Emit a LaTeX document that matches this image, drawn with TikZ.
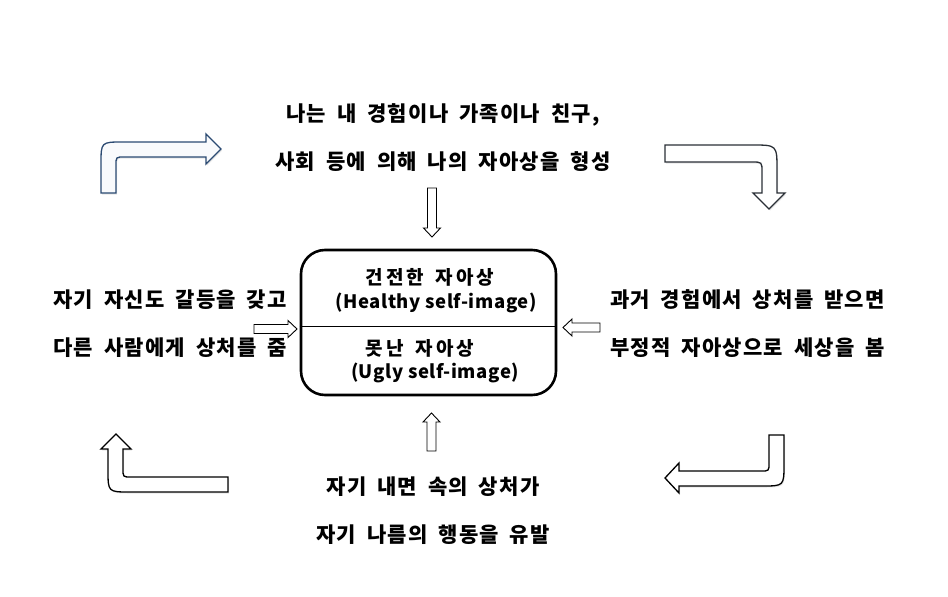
\documentclass[tikz,border=0pt]{standalone}
\usepackage{fontspec}
\newfontfamily\kr{Noto Sans CJK KR}[LetterSpace=6,WordSpace=1.8]
\newfontfamily\krbox{Noto Sans CJK KR}[LetterSpace=16,WordSpace=1.6]
\newfontfamily\enbox{Noto Sans CJK KR}[LetterSpace=3]
\usetikzlibrary{shadows}
\definecolor{bluedge}{HTML}{2B4A72}
\definecolor{bluefill}{HTML}{F9FAFC}
\definecolor{darkedge}{HTML}{2A2F36}
\tikzset{
  caption/.style={font=\kr\bfseries\fontsize{21}{48}\selectfont, align=center, inner sep=0},
  inbox/.style={font=\krbox\bfseries\fontsize{19}{22}\selectfont, inner sep=0},
  inboxen/.style={font=\enbox\bfseries\fontsize{18.5}{22}\selectfont, inner sep=0},
  hollow/.style={draw=black, line width=0.9, fill=white},
  bent/.style={line width=1.3, drop shadow={opacity=0.2,shadow xshift=1pt,shadow yshift=-1.5pt}},
}
% hollow block arrow: start coordinate, angle, length
\newcommand{\hollowarrow}[3]{%
  \draw[hollow,shift={(#1)},rotate=#2] (0,-4.5)--(#3-9,-4.5)--(#3-9,-8.5)--(#3,0)--(#3-9,8.5)--(#3-9,4.5)--(0,4.5)--cycle;}
\begin{document}
\begin{tikzpicture}[x=1pt,y=-1pt]
  \useasboundingbox (0,0) rectangle (948,597);
  % self-image box
  \node[draw, line width=2.6, rounded corners=24, minimum width=255, minimum height=145, inner sep=0] (self) at (428.5,322.5) {};
  \draw[line width=1] ([yshift=-3.5pt]self.west) -- ([yshift=-3.5pt]self.east);
  \node[inbox] (healthy) at (430,277) {건전한 자아상};
  \node[inboxen] (healthyen) at (436,303) {(Healthy self-image)};
  \node[inbox] (ugly) at (420,348) {못난 자아상};
  \node[inboxen] (uglyen) at (435,373) {(Ugly self-image)};
  % texts round the box
  \node[caption] (top) at (443,138) {나는 내 경험이나 가족이나 친구,\\사회 등에 의해 나의 자아상을 형성};
  \node[caption] (left) at (170,324) {자기 자신도 갈등을 갖고\\다른 사람에게 상처를 줌};
  \node[caption] (right) at (747.5,324) {과거 경험에서 상처를 받으면\\부정적 자아상으로 세상을 봄};
  \node[caption] (bottom) at (433,511) {자기 내면 속의 상처가\\자기 나름의 행동을 유발};
  % small arrows into the box
  \coordinate (topin) at (432,188);
  \coordinate (leftin) at (254,329);
  \coordinate (rightin) at (600,327.5);
  \coordinate (bottomin) at (431.5,451);
  \hollowarrow{topin}{-90}{49}
  \hollowarrow{leftin}{0}{43}
  \hollowarrow{rightin}{180}{37}
  \hollowarrow{bottomin}{90}{38}
  % bent arrows of the cycle
  \draw[bent, draw=bluedge, fill=bluefill]
    (101,193) -- (101,164) .. controls (101,142) .. (123,142) -- (206,142) -- (206,134) -- (221,149)
    -- (206,164) -- (206,157) -- (124,157) .. controls (116,157) .. (116,165) -- (116,193) -- cycle;
  \draw[bent, draw=darkedge, fill=white]
    (665,145) -- (752,145) .. controls (777,145) .. (777,170) -- (777,193) -- (785,193) -- (769,209)
    -- (753,193) -- (762,193) -- (762,172) .. controls (762,162) .. (752,162) -- (665,162) -- cycle;
  \draw[bent, draw=black, fill=white]
    (228,477) -- (131,477) .. controls (123,477) .. (123,469) -- (123,449) -- (131,449) -- (116,434)
    -- (101,449) -- (108,449) -- (108,470) .. controls (108,492) .. (130,492) -- (228,492) -- cycle;
  \draw[bent, draw=black, fill=white]
    (769,435) -- (784,435) -- (784,464) .. controls (784,486) .. (762,486) -- (679,486) -- (679,493)
    -- (665,478) -- (679,463) -- (679,471) -- (761,471) .. controls (769,471) .. (769,463) -- cycle;
\end{tikzpicture}
\end{document}
